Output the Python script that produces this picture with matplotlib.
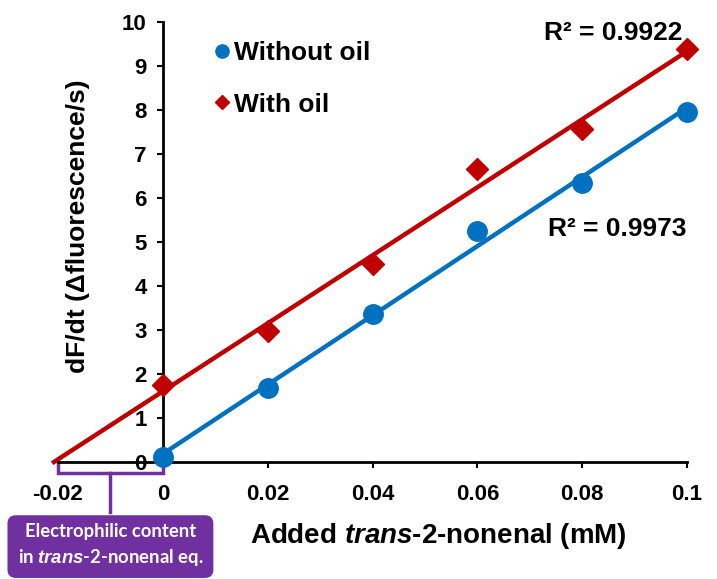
import matplotlib

matplotlib.use("Agg")
import matplotlib.pyplot as plt
import numpy as np
from matplotlib.lines import Line2D

plt.rcParams["font.family"] = ["Liberation Sans", "DejaVu Sans"]
plt.rcParams["font.weight"] = "bold"
plt.rcParams["mathtext.fontset"] = "custom"
plt.rcParams["mathtext.it"] = "Liberation Sans:italic:bold"
plt.rcParams["mathtext.rm"] = "Liberation Sans:bold"

conc = [0.0, 0.02, 0.04, 0.06, 0.08, 0.1]
without_oil = [0.11, 1.68, 3.37, 5.25, 6.35, 7.95]
with_oil = [1.75, 2.97, 4.5, 6.65, 7.57, 9.38]
r2_without = "R² = 0.9973"
r2_with = "R² = 0.9922"
xticks = [-0.02, 0, 0.02, 0.04, 0.06, 0.08, 0.1]
xticklabels = ["-0.02", "0", "0.02", "0.04", "0.06", "0.08", "0.1"]

blue = "#0070C0"
red = "#C00000"
purple = "#7030A0"

fig = plt.figure(figsize=(7.17, 5.79), dpi=100)
ax = fig.add_axes([58 / 717, 117 / 579, 629 / 717, 440 / 579])
ax.set_xlim(-0.02, 0.1)
ax.set_ylim(0, 10)

# linear trend lines (red one forecast back to the x-intercept)
b_fit = np.polyfit(conc, without_oil, 1)
r_fit = np.polyfit(conc, with_oil, 1)
xb = np.array([0, 0.1])
xr = np.array([-r_fit[1] / r_fit[0], 0.1])
ax.plot(xb, np.polyval(b_fit, xb), color=blue, lw=3.2, clip_on=False, zorder=2)
ax.plot(xr, np.polyval(r_fit, xr), color=red, lw=3.2, clip_on=False, zorder=2)

ax.plot(conc, without_oil, "o", color=blue, ms=14, clip_on=False, zorder=3)
ax.plot(conc, with_oil, "D", color=red, ms=11, clip_on=False, zorder=3)

ax.spines["right"].set_visible(False)
ax.spines["top"].set_visible(False)
ax.spines["left"].set_position(("data", 0))
for s in ("left", "bottom"):
    ax.spines[s].set_linewidth(2)

ax.set_yticks(range(0, 11))
ax.set_xticks(xticks)
ax.set_xticklabels(xticklabels)
ax.tick_params(axis="both", labelsize=16, width=1.5, length=4.5)
ax.tick_params(axis="x", pad=11)
ax.tick_params(axis="y", pad=7)

ax.set_xlabel(r"Added $\mathit{trans}$-2-nonenal (mM)", fontsize=20, fontweight="bold")
ax.xaxis.set_label_coords(0.604, -0.135)
ax.set_ylabel("dF/dt (Δfluorescence/s)", fontsize=19, fontweight="bold")
ax.yaxis.set_label_coords(0.051, 0.536)

ax.text(0.0859, 9.75, r2_with, fontsize=19, fontweight="bold", ha="center", va="center")
ax.text(0.1, 5.3, r2_without, fontsize=19, fontweight="bold", ha="right", va="center")

handles = [
    Line2D([], [], marker="o", ls="", color=blue, ms=9.5, label="Without oil"),
    Line2D([], [], marker="D", ls="", color=red, ms=7.5, label="With oil"),
]
ax.legend(handles=handles, loc="upper left", bbox_to_anchor=(0.251, 0.957), frameon=False,
          prop={"weight": "bold", "size": 19}, handletextpad=0.2, borderpad=0,
          borderaxespad=0, labelspacing=1.05, handlelength=0.5)

# bracket marking the x-intercept range
bx = [-0.02, -0.02, 0, 0]
by = [0, -0.25, -0.25, 0]
ax.plot(bx, by, color=purple, lw=2.5, clip_on=False, solid_joinstyle="miter")
ax.plot([-0.01, -0.01], [-0.25, -1.14], color=purple, lw=2.5, clip_on=False)
ax.text(-0.01, -1.9, "Electrophilic content\nin $\\mathit{trans}$-2-nonenal eq.", color="white",
        fontsize=13.3, fontweight="bold", family=["Lato", "DejaVu Sans"], ha="center", va="center",
        linespacing=1.4,
        bbox=dict(boxstyle="round,pad=0.55,rounding_size=0.45", fc=purple, ec="none"))

fig.savefig("out.png", dpi=100)
